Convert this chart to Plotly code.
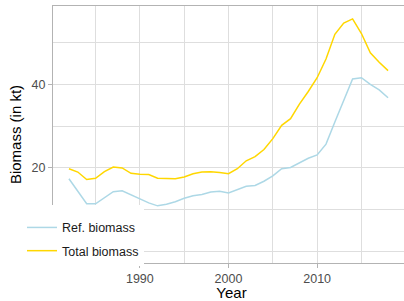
import plotly.graph_objects as go

years = list(range(1982, 2019))
total_biomass = [19.8, 19.0, 17.2, 17.5, 19.1, 20.2, 20.0, 18.7, 18.5, 18.4,
                 17.5, 17.5, 17.4, 17.8, 18.6, 19.0, 19.1, 18.9, 18.6, 19.8,
                 21.7, 22.7, 24.4, 27.0, 30.2, 31.8, 35.3, 38.3, 41.6, 46.1,
                 52.0, 54.7, 55.7, 52.2, 47.6, 45.3, 43.3]
ref_biomass = [17.4, 14.4, 11.4, 11.4, 12.9, 14.3, 14.5, 13.5, 12.5, 11.6,
               10.9, 11.3, 11.9, 12.7, 13.3, 13.6, 14.2, 14.4, 14.0, 14.8,
               15.6, 15.8, 16.8, 18.1, 19.8, 20.1, 21.3, 22.3, 23.1, 25.7,
               31.0, 36.2, 41.3, 41.6, 40.0, 38.7, 36.8]

x_ticks = [1990, 2000, 2010]
x_minor = [1980, 1985, 1995, 2005, 2015]
y_ticks = [20, 40]
y_minor = [0, 10, 30, 50]

FONT = "Liberation Sans, Arial, sans-serif"
GRID = "#DEDEDE"
BORDER = "#B3B3B3"

fig = go.Figure()
fig.add_trace(go.Scatter(x=years, y=ref_biomass, mode="lines", name="Ref. biomass",
                         line=dict(color="#ADD8E6", width=1.5), legendgroup="a"))
fig.add_trace(go.Scatter(x=years, y=total_biomass, mode="lines", name="Total biomass",
                         line=dict(color="#FFD700", width=1.5), legendgroup="b"))

# panel spans x=53..410 px (extends past the 404 px window edge)
PX_PER_YEAR = 351 / 39.6
x_lo = 1980.2
x_hi = x_lo + 357 / PX_PER_YEAR

fig.update_layout(
    width=410, height=301,
    margin=dict(l=53, r=0, t=6, b=38),
    paper_bgcolor="white", plot_bgcolor="white",
    font=dict(family=FONT, color="#4D4D4D", size=12),
    showlegend=True,
    legend=dict(x=(22 - 53) / 357, xanchor="left", y=(263 - 205) / 257, yanchor="top",
                bgcolor="white", borderwidth=0, tracegroupgap=4,
                title=dict(text=" ", font=dict(size=6)),
                font=dict(family=FONT, size=12.5, color="#1A1A1A")),
    xaxis=dict(range=[x_lo, x_hi], tickmode="array", tickvals=x_ticks,
               automargin=False,
               showgrid=True, gridcolor=GRID, gridwidth=1,
               minor=dict(tickmode="array", tickvals=x_minor, showgrid=True,
                          gridcolor=GRID, gridwidth=1, ticks=""),
               showline=True, linecolor=BORDER, linewidth=1, mirror=True,
               ticks="outside", ticklen=4, tickcolor=BORDER,
               tickfont=dict(size=12.5, color="#4D4D4D"), zeroline=False,
               title=dict(text="Year", font=dict(size=15, color="#000000"), standoff=0)),
    yaxis=dict(range=[-2.8, 58.8], tickmode="array", tickvals=y_ticks,
               automargin=False,
               showgrid=True, gridcolor=GRID, gridwidth=1,
               minor=dict(tickmode="array", tickvals=y_minor, showgrid=True,
                          gridcolor=GRID, gridwidth=1, ticks=""),
               showline=True, linecolor=BORDER, linewidth=1, mirror=False,
               ticks="outside", ticklen=4, tickcolor=BORDER,
               tickfont=dict(size=12.5, color="#4D4D4D"), zeroline=False,
               title=dict(text="Biomass (in kt)", font=dict(size=15, color="#000000"), standoff=6)),
)

fig.write_html("out.html", config={"displayModeBar": False, "staticPlot": True},
               post_script="document.body.style.margin='0';document.body.style.overflow='hidden';")
